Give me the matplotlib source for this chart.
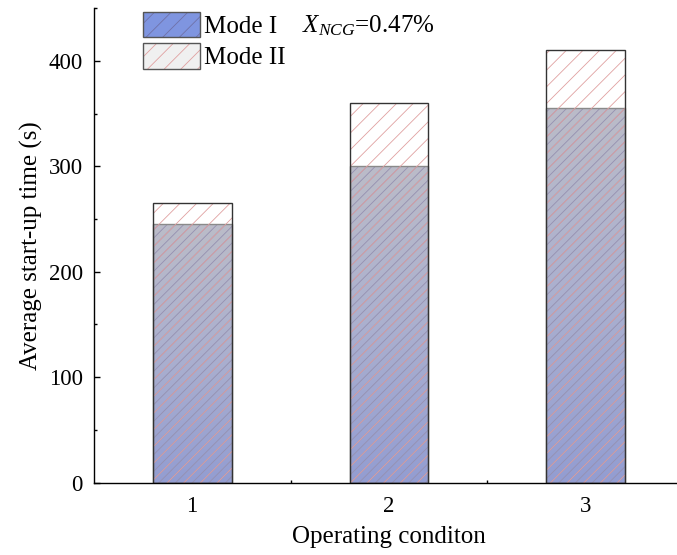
import numpy as np
import matplotlib
matplotlib.use("Agg")
import matplotlib.pyplot as plt
from matplotlib.patches import Patch
from matplotlib.colors import LinearSegmentedColormap
from matplotlib.legend_handler import HandlerTuple

conditions = [1, 2, 3]
mode_1 = [245, 300, 355]
mode_2 = [265, 360, 410]
label_1 = "Mode I"
label_2 = "Mode II"
note = r"$X_{NCG}$=0.47%"

plt.rcParams["font.family"] = "Liberation Serif"
plt.rcParams["mathtext.fontset"] = "custom"
plt.rcParams["mathtext.rm"] = "Liberation Serif"
plt.rcParams["mathtext.it"] = "Liberation Serif:italic"
plt.rcParams["font.size"] = 16
plt.rcParams["hatch.linewidth"] = 0.6

fig = plt.figure(figsize=(6.77, 5.55), dpi=100)
ax = fig.add_axes([0.1385, 0.1305, 0.872, 0.8545])

width = 0.4
red = "#e0a0a0"

# Mode II: white bars behind
ax.bar(conditions, mode_2, width, color="white", edgecolor="none", zorder=1)

# Mode I: gradient fill, gray at top -> blue at bottom
cmap = LinearSegmentedColormap.from_list("m1", ["#939dd2", "#abb0cf", "#bbbcc8"])
bars1 = ax.bar(conditions, mode_1, width, color="none", edgecolor="none", zorder=2)
grad = np.linspace(0, 1, 256).reshape(-1, 1)
for p in bars1:
    x0, y0 = p.get_x(), p.get_y()
    im = ax.imshow(grad, extent=[x0, x0 + p.get_width(), y0, y0 + p.get_height()],
                   origin="lower", aspect="auto", cmap=cmap, zorder=2)
    im.set_clip_path(p)
ax.bar(conditions, mode_1, width, color="none", edgecolor="#9590b0",
       hatch="////", linewidth=0, zorder=3)
ax.bar(conditions, mode_1, width, color="none", edgecolor="#8a8a8a",
       linewidth=1.0, zorder=3.5)

# Mode II red hatch over the full bar, plus dark outline
ax.bar(conditions, mode_2, width, color="none", edgecolor=red,
       hatch="//", linewidth=0, zorder=4)
ax.bar(conditions, mode_2, width, color="none", edgecolor="#333333",
       linewidth=1.0, zorder=5)

ax.set_xlim(0.5, 3.5)
ax.set_ylim(0, 450)
ax.set_xticks(conditions)
ax.set_xticks([1.5, 2.5], minor=True)
ax.set_yticks([0, 100, 200, 300, 400])
ax.set_yticks([50, 150, 250, 350, 450], minor=True)
ax.tick_params(which="both", direction="in", width=1.0, labelsize=16.5, zorder=6)
ax.tick_params(which="major", length=4.5)
ax.tick_params(which="minor", length=2.5)
ax.tick_params(axis="x", pad=10)
ax.tick_params(axis="y", pad=8)
for s in ["top", "right"]:
    ax.spines[s].set_visible(False)
for s in ["left", "bottom"]:
    ax.spines[s].set_linewidth(1.0)
    ax.spines[s].set_zorder(7)

ax.set_xlabel("Operating conditon", fontsize=18, labelpad=6)
ax.set_ylabel("Average start-up time (s)", fontsize=18, labelpad=4)

h1 = (Patch(facecolor="#7f95e0", edgecolor="#6f72a8", hatch="//", linewidth=0),
      Patch(facecolor="none", edgecolor="#555555", linewidth=1.0))
h2 = (Patch(facecolor="#f0f0f0", edgecolor=red, hatch="//", linewidth=0),
      Patch(facecolor="none", edgecolor="#555555", linewidth=1.0))
ax.legend([h1, h2], [label_1, label_2], handler_map={tuple: HandlerTuple(ndivide=1)},
          loc="upper left", bbox_to_anchor=(0.067, 1.014), frameon=False,
          fontsize=18, handlelength=2.25, handleheight=1.2,
          handletextpad=0.16, labelspacing=0.2, borderaxespad=0)

fig.text(302 / 677, 1 - 26 / 555, note, fontsize=18, va="center", ha="left")

fig.savefig("out.png", dpi=100)
